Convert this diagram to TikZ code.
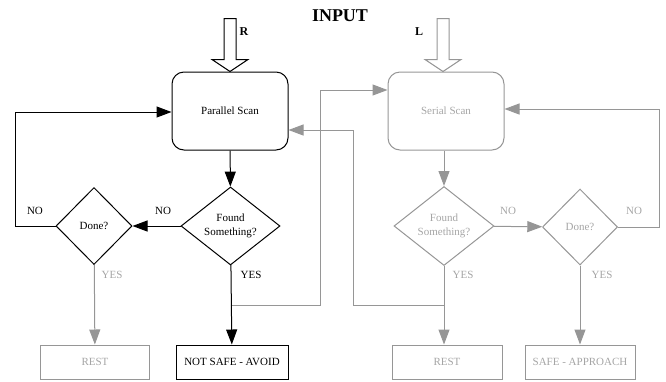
\documentclass[tikz,border=0pt]{standalone}
\usepackage{fontspec}
\setmainfont{Liberation Serif}
\usetikzlibrary{calc,arrows.meta,shapes.geometric}
\definecolor{lgray}{RGB}{150,150,150}
\definecolor{tgray}{RGB}{165,165,165}
\tikzset{
  scanbox/.style={draw, rounded corners=12pt, minimum width=116pt, minimum height=78pt, line width=1pt, font=\fontsize{11}{13}\selectfont},
  endbox/.style={draw, minimum height=34pt, line width=1pt, inner sep=0pt, font=\fontsize{11}{13}\selectfont},
  ask/.style={draw, diamond, aspect=1.27, inner sep=0pt, line width=1pt, align=center, font=\fontsize{11}{14}\selectfont},
  flow/.style={line width=1pt, -{Triangle[length=15pt,width=11pt]}},
  lbl/.style={font=\fontsize{11}{13}\selectfont},
  dim/.style={lgray, text=tgray},
}
% hollow input arrow pointing down onto #2
\def\inarrow[#1](#2){\draw[line width=1pt, fill=white, draw=#1] (#2) -- ++(-18,-12) -- ++(12,0) -- ++(0,-41) -- ++(12,0) -- ++(0,41) -- ++(12,0) -- cycle;}

\begin{document}
\begin{tikzpicture}[x=1pt, y=-1pt]
  %%%%% frame
  \useasboundingbox (0,0) rectangle (666,381);

  \node[font=\bfseries\fontsize{18}{20}\selectfont] (input) at (340,16) {INPUT};

  %%%%% left branch
  \node[scanbox] (psc) at (230,111) {Parallel Scan};
  \node[ask, minimum width=99pt, minimum height=78pt] (lfound) at (230.5,226) {Found\\Something?};
  \node[ask, minimum width=76pt, minimum height=77pt] (ldone) at (94,226) {Done?};
  \node[endbox, dim, minimum width=109pt] (lrest) at (95,362) {REST};
  \node[endbox, minimum width=112pt] (nsafe) at (232,362) {NOT SAFE - AVOID};

  %%%%% right branch
  \node[scanbox, dim] (ssc) at (446,111) {Serial Scan};
  \node[ask, dim, minimum width=100pt, minimum height=79pt] (rfound) at (444,226) {Found\\Something?};
  \node[ask, dim, minimum width=75pt, minimum height=76pt] (rdone) at (580,227) {Done?};
  \node[endbox, dim, minimum width=110pt] (rrest) at (447,362) {REST};
  \node[endbox, dim, minimum width=110pt] (safe) at (580,362) {SAFE - APPROACH};

  %%%%% inputs
  \inarrow[black](psc.north)
  \node[font=\bfseries\fontsize{12}{14}\selectfont] (rlbl) at (244,32) {R};
  \inarrow[lgray]([xshift=-3pt]ssc.north)
  \node[font=\bfseries\fontsize{12}{14}\selectfont] (llbl) at (419,32) {L};

  %%%%% crossing lines
  \coordinate (lj) at (lfound.south |- 0,305);
  \coordinate (rj) at (rfound.south |- 0,305);
  \coordinate (sscin) at ([yshift=21pt]ssc.west);
  \coordinate (pscin) at ([yshift=-19pt]psc.east);
  \draw[flow, lgray] (lj) -| (320,90) -- (sscin);
  \draw[flow, lgray] (rj) -| (353,130) -- (pscin);

  %%%%% left flow
  \draw[flow] (psc) -- (lfound);
  \draw[flow] (lfound) -- (ldone);
  \draw[flow] (ldone.west) -- (15,226) |- ([yshift=-1pt]psc.west);
  \draw[flow, lgray] (ldone) -- (lrest);
  \draw[flow] (lfound) -- (nsafe);
  \node[lbl] (no1) at (163,211) {NO};
  \node[lbl] (no2) at (35,211) {NO};
  \node[lbl, tgray] (yes1) at (112,275) {YES};
  \node[lbl] (yes2) at (251,275) {YES};

  %%%%% right flow
  \draw[flow, lgray] (ssc.south -| rfound.north) -- (rfound);
  \draw[flow, lgray] (rfound) -- (rdone);
  \draw[flow, lgray] (rdone.east) -- (659,227) |- ([yshift=2pt]ssc.east);
  \draw[flow, lgray] (rfound) -- (rrest.north -| rfound.south);
  \draw[flow, lgray] (rdone) -- (safe);
  \node[lbl, tgray] (no3) at (508,211) {NO};
  \node[lbl, tgray] (no4) at (634,211) {NO};
  \node[lbl, tgray] (yes3) at (463,275) {YES};
  \node[lbl, tgray] (yes4) at (602,275) {YES};
\end{tikzpicture}
\end{document}
